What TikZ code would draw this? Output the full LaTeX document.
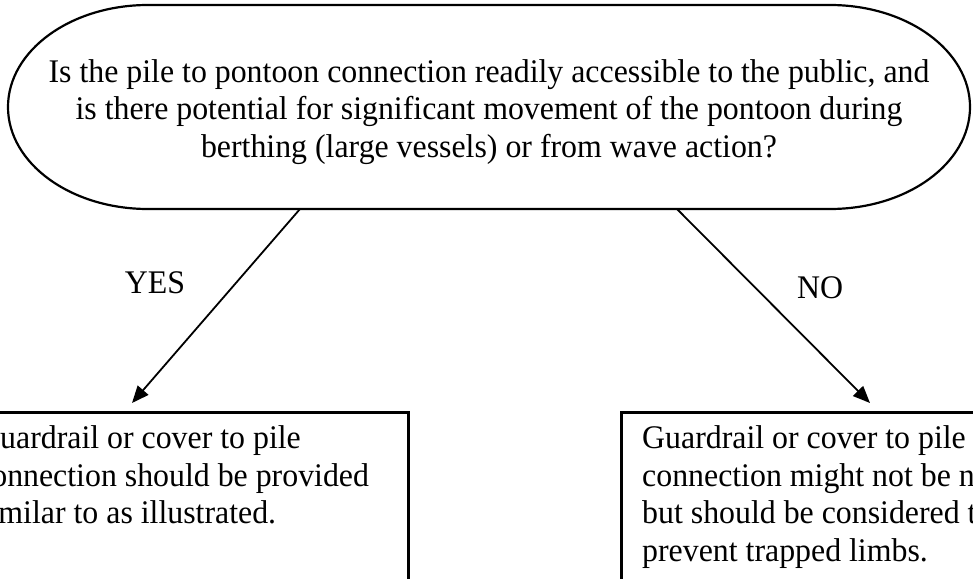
\documentclass[tikz,border=0pt]{standalone}
\usepackage{fontspec}
\setmainfont{Liberation Serif}[FakeStretch=0.965]
\usetikzlibrary{arrows.meta}

\begin{document}
\begin{tikzpicture}[x=1pt,y=-1pt,
  every node/.style={font=\fontsize{33}{37.5}\selectfont,inner sep=0pt},
  answerbox/.style={draw,line width=2.6pt,anchor=north west,minimum width=452pt,minimum height=260pt},
  answertext/.style={anchor=north west,align=left},
  branch/.style={line width=1.8pt,-{Triangle[length=17pt,width=14pt]}}]
\useasboundingbox (0,0) rectangle (973,578);
\clip (0,0) rectangle (973,578);
\draw[line width=2.2pt] (148,5) -- (830,5) arc[start angle=-90,end angle=90,x radius=140,y radius=102]
  -- (148,209) arc[start angle=90,end angle=270,x radius=140,y radius=102] -- cycle;
\node[align=center] (question) at (489,112) {Is the pile to pontoon connection readily accessible to the public, and\\
  is there potential for significant movement of the pontoon during\\
  berthing (large vessels) or from wave action?};
\coordinate (yesfrom) at (300,209);
\coordinate (nofrom) at (677,209);
\node[answerbox] (yesbox) at (-45,411) {};
\node[answerbox] (nobox) at (620,411) {};
\node[answertext] (yestext) at (-23,425.5) {Guardrail or cover to pile\\
  connection should be provided\\
  similar to as illustrated.};
\node[answertext] (notext) at (642,425.5) {Guardrail or cover to pile\\
  connection might not be necessary\\
  but should be considered to\\
  prevent trapped limbs.};
\coordinate (yesto) at (132,403);
\coordinate (noto) at (870,403);
\draw[branch] (yesfrom) -- (yesto);
\draw[branch] (nofrom) -- (noto);
\node (yes) at (155,283) {YES};
\node (no) at (820,288) {NO};
\end{tikzpicture}
\end{document}
